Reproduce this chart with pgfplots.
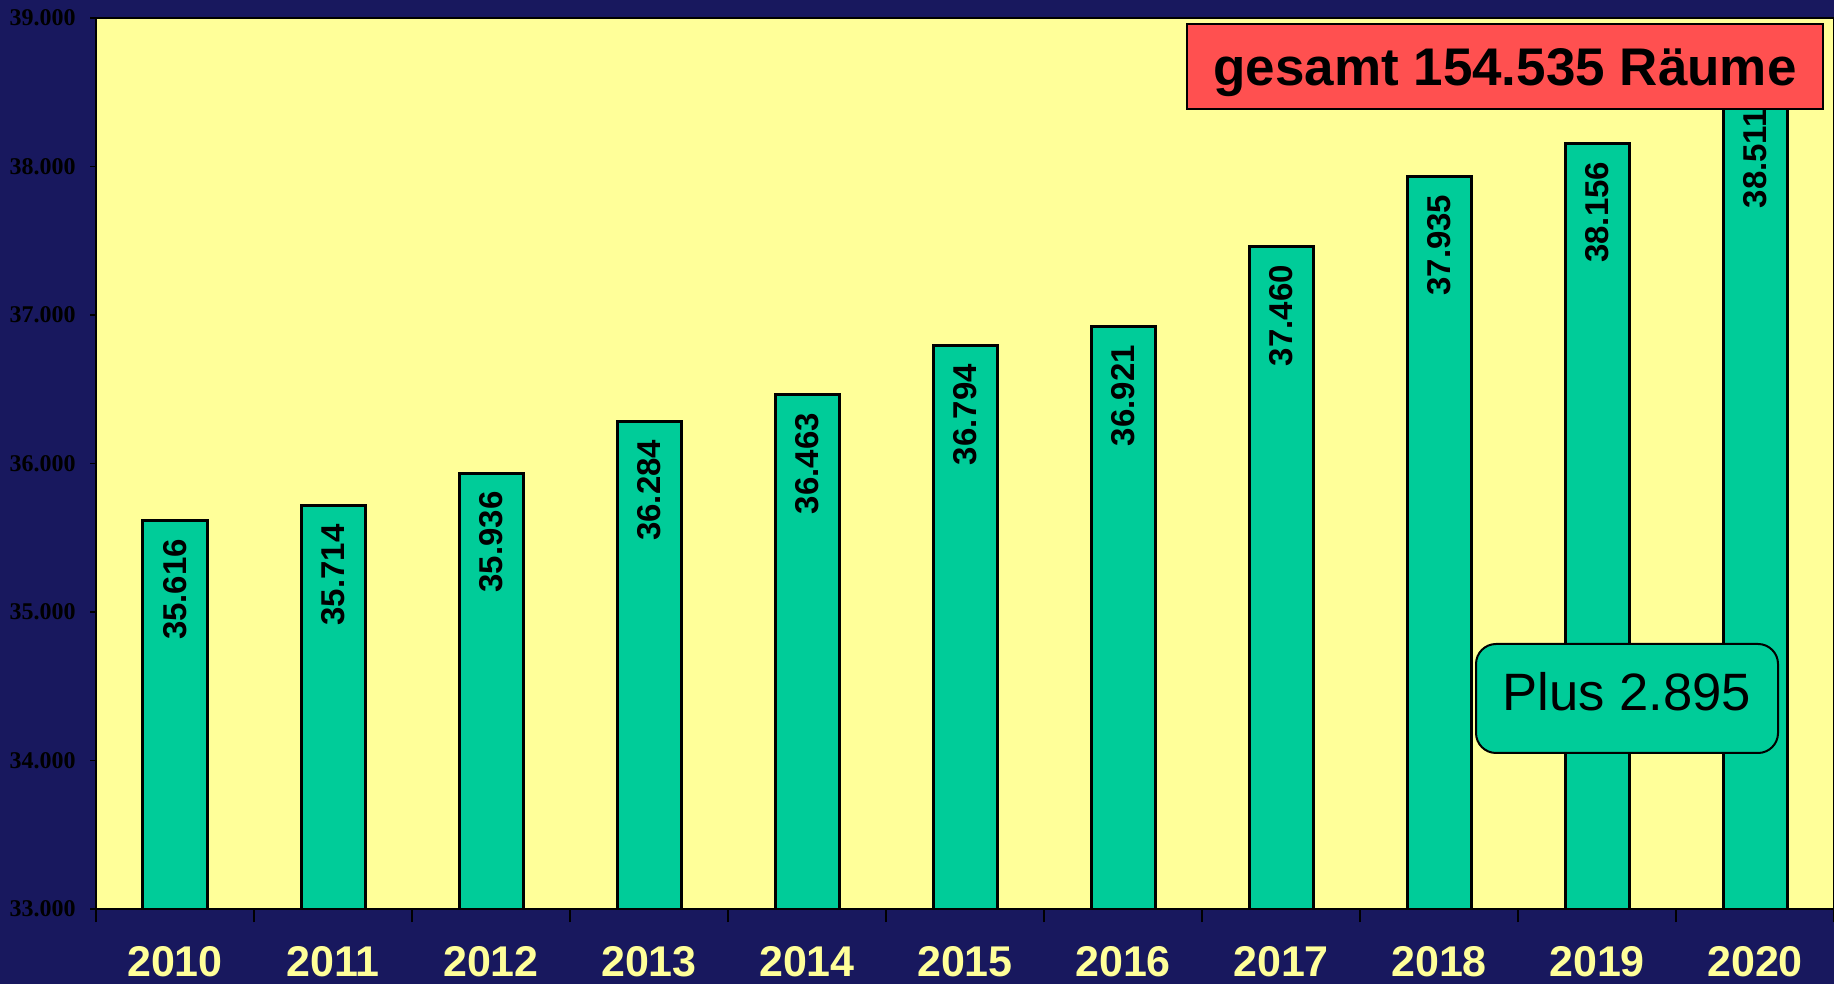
\documentclass[border=0pt]{standalone}
\usepackage{fontspec}
\setmainfont{Liberation Sans}
\newfontfamily\tnr{Liberation Serif}
\usepackage{pgfplots}
\pgfplotsset{compat=1.18}
\definecolor{navy}{RGB}{24,24,94}
\definecolor{plotyellow}{RGB}{255,255,153}
\definecolor{barteal}{RGB}{0,204,153}
\definecolor{boxred}{RGB}{255,80,80}
\begin{document}
\begin{tikzpicture}
\useasboundingbox (0,0) rectangle (917pt,492pt);
\fill[navy] (0,0) rectangle (917pt,492pt);
\begin{axis}[
  at={(48pt,37.5pt)}, anchor=south west,
  width=869pt, height=445.5pt, scale only axis,
  xmin=-0.5, xmax=10.5, ymin=33000, ymax=39000,
  axis background/.style={fill=plotyellow},
  axis line style={black, line width=0.6pt},
  tick align=outside,
  xtick pos=bottom, ytick pos=left,
  major tick length=3pt,
  minor tick length=6.5pt,
  ytick={33000,34000,35000,36000,37000,38000,39000},
  yticklabels={33.000,34.000,35.000,36.000,37.000,38.000,39.000},
  yticklabel style={font=\tnr\bfseries\fontsize{12}{13}\selectfont, inner sep=0pt, xshift=-7pt, text=black},
  ytick style={black, line width=0.6pt},
  xtick={0,1,2,3,4,5,6,7,8,9,10},
  xticklabels={2010,2011,2012,2013,2014,2015,2016,2017,2018,2019,2020},
  major x tick style={draw=none},
  minor xtick={-0.5,0.5,1.5,2.5,3.5,4.5,5.5,6.5,7.5,8.5,9.5,10.5},
  minor x tick style={black, line width=0.6pt},
  xticklabel style={font=\bfseries\fontsize{21.5}{24}\selectfont, text=plotyellow, anchor=base, inner sep=0pt, yshift=-30.5pt},
]
\addplot[ybar, bar width=32pt, fill=barteal, draw=black, line width=1.5pt,
  nodes near coords, point meta=explicit symbolic,
  every node near coord/.append style={rotate=90, anchor=east, inner sep=0pt, inner xsep=8.5pt, text=black, font=\bfseries\fontsize{16.5}{18}\selectfont}]
  table[x=x, y=y, meta=lab] {
x y lab
0 35616 35.616
1 35714 35.714
2 35936 35.936
3 36284 36.284
4 36463 36.463
5 36794 36.794
6 36921 36.921
7 37460 37.460
8 37935 37.935
9 38156 38.156
10 38511 38.511
};
\end{axis}
\node[fill=boxred, draw=black, line width=1pt, minimum width=318pt, minimum height=42.5pt, inner sep=0pt,
  font=\bfseries\fontsize{26.5}{30}\selectfont, text height=19pt, text depth=0pt] at (752.5pt,458.75pt) {gesamt 154.535 Räume};
\node[fill=barteal, draw=black, line width=1pt, rounded corners=10pt, minimum width=151pt, minimum height=54.5pt, inner sep=0pt,
  font=\fontsize{26.3}{30}\selectfont, text height=18.8pt, text depth=6.5pt] at (813.5pt,142.75pt) {Plus 2.895};
\end{tikzpicture}
\end{document}
